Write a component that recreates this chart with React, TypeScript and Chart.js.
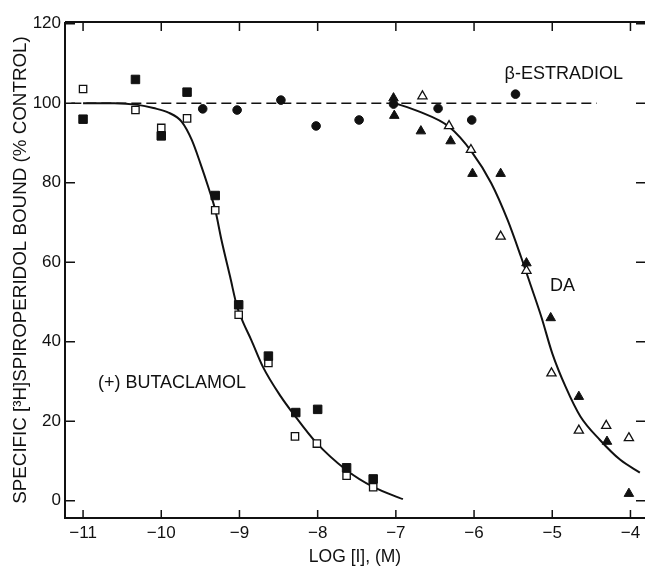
import React, { useEffect, useRef } from "react";
import { Chart, registerables } from "chart.js";

Chart.register(...registerables);

// ---- axis ticks ----
const xTickValues = [-11, -10, -9, -8, -7, -6, -5, -4];
const yTickValues = [0, 20, 40, 60, 80, 100, 120];

// ---- (+) butaclamol, two experiments ----
const butFilledLogI = [-11.0, -10.33, -10.0, -9.67, -9.31, -9.01, -8.63, -8.28, -8.0, -7.63, -7.29];
const butFilledBound = [96.0, 106.0, 91.8, 102.8, 76.8, 49.3, 36.4, 22.2, 23.0, 8.3, 5.5];
const butOpenLogI = [-11.0, -10.33, -10.0, -9.67, -9.31, -9.01, -8.63, -8.29, -8.01, -7.63, -7.29];
const butOpenBound = [103.6, 98.3, 93.8, 96.2, 73.1, 46.8, 34.7, 16.2, 14.4, 6.3, 3.4];

// ---- beta-estradiol ----
const estLogI = [-9.47, -9.03, -8.47, -8.02, -7.47, -7.03, -6.46, -6.03, -5.47];
const estBound = [98.6, 98.3, 100.8, 94.3, 95.8, 99.8, 98.7, 95.8, 102.3];

// ---- dopamine (DA), two experiments ----
const daFilledLogI = [-7.03, -7.02, -6.68, -6.3, -6.02, -5.66, -5.33, -5.02, -4.66, -4.3, -4.02];
const daFilledBound = [101.3, 96.9, 93.0, 90.5, 82.3, 82.3, 59.8, 46.0, 26.2, 14.9, 1.8];
const daOpenLogI = [-6.66, -6.32, -6.04, -5.66, -5.33, -5.01, -4.66, -4.31, -4.02];
const daOpenBound = [101.8, 94.3, 88.3, 66.5, 57.9, 32.1, 17.7, 18.9, 15.8];

// ---- fitted curves ----
const butCurveLogI = [-11.0, -10.6, -10.3, -10.1, -9.9, -9.74, -9.61, -9.5, -9.4, -9.31, -9.23, -9.12, -9.03, -8.96, -8.85, -8.7, -8.47, -8.3, -8.03, -7.63, -7.29, -6.91];
const butCurveBound = [100, 100, 99.6, 98.8, 97.6, 95.4, 90.8, 84.9, 79.0, 73.2, 65.6, 56.4, 48.8, 45.2, 40.5, 33.7, 26.2, 21.6, 14.9, 7.7, 3.5, 0.4];
const daCurveLogI = [-7.04, -6.7, -6.32, -6.03, -5.78, -5.57, -5.4, -5.27, -5.14, -5.0, -4.83, -4.64, -4.39, -4.13, -3.88];
const daCurveBound = [100.2, 97.9, 94.1, 87.8, 79.9, 70.6, 61.4, 53.9, 46.3, 37.1, 28.7, 21.2, 15.3, 10.3, 7.1];

// ---- control (100 %) reference line ----
const refLogI = [-11.15, -4.43];
const refBound = [100, 100];

// ---- in-plot labels ----
const labelTexts = ["\u03b2-ESTRADIOL", "DA", "(+) BUTACLAMOL"];
const labelLogI = [-5.61, -5.03, -10.81];
const labelBound = [107.4, 54.1, 29.6];

const FONT = '"Liberation Sans", Arial, Helvetica, sans-serif';

const pts = (xs: number[], ys: number[]) => xs.map((x, i) => ({ x, y: ys[i] }));
const fmt = (v: number) => (v < 0 ? "\u2212" + Math.abs(v) : String(v));

const framePlugin = {
  id: "frameAndLabels",
  afterDatasetsDraw(chart: any) {
    const { ctx, chartArea, scales } = chart;
    const { left, right, top, bottom } = chartArea;
    ctx.save();
    ctx.strokeStyle = "#111";
    ctx.lineWidth = 2;
    ctx.beginPath();
    ctx.moveTo(left, top);
    ctx.lineTo(right, top);
    ctx.moveTo(left, top);
    ctx.lineTo(left, bottom);
    ctx.lineTo(right, bottom);
    ctx.stroke();

    ctx.lineWidth = 1.5;
    ctx.beginPath();
    xTickValues.forEach((v) => {
      const px = scales.x.getPixelForValue(v);
      ctx.moveTo(px, bottom);
      ctx.lineTo(px, bottom - 8);
      ctx.moveTo(px, top);
      ctx.lineTo(px, top + 9);
    });
    yTickValues.forEach((v) => {
      const py = scales.y.getPixelForValue(v);
      ctx.moveTo(left, py);
      ctx.lineTo(left + 10, py);
      ctx.moveTo(right, py);
      ctx.lineTo(right - 9, py);
    });
    ctx.stroke();

    ctx.fillStyle = "#111";
    ctx.font = `18px ${FONT}`;
    ctx.textAlign = "left";
    ctx.textBaseline = "middle";
    labelTexts.forEach((t, i) => {
      ctx.fillText(t, scales.x.getPixelForValue(labelLogI[i]), scales.y.getPixelForValue(labelBound[i]));
    });
    ctx.restore();
  },
};

export default function App() {
  const canvasRef = useRef<HTMLCanvasElement | null>(null);

  useEffect(() => {
    if (!canvasRef.current) return;
    const markerBase = { showLine: false, borderColor: "#111", order: 0 };
    const chart = new Chart(canvasRef.current, {
      type: "scatter",
      data: {
        datasets: [
          {
            label: "butaclamol curve",
            data: pts(butCurveLogI, butCurveBound),
            showLine: true,
            pointRadius: 0,
            borderColor: "#111",
            borderWidth: 2,
            cubicInterpolationMode: "monotone",
            order: 2,
          },
          {
            label: "DA curve",
            data: pts(daCurveLogI, daCurveBound),
            showLine: true,
            pointRadius: 0,
            borderColor: "#111",
            borderWidth: 2,
            cubicInterpolationMode: "monotone",
            order: 2,
          },
          {
            label: "control",
            data: pts(refLogI, refBound),
            showLine: true,
            pointRadius: 0,
            borderColor: "#111",
            borderWidth: 1.5,
            borderDash: [10, 5],
            order: 2,
          },
          {
            ...markerBase,
            label: "(+) butaclamol A",
            data: pts(butFilledLogI, butFilledBound),
            pointStyle: "rect",
            pointRadius: 6,
            borderWidth: 1,
            backgroundColor: "#111",
          },
          {
            ...markerBase,
            label: "(+) butaclamol B",
            data: pts(butOpenLogI, butOpenBound),
            pointStyle: "rect",
            pointRadius: 5.2,
            borderWidth: 1.3,
            backgroundColor: "#fff",
          },
          {
            ...markerBase,
            label: "beta-estradiol",
            data: pts(estLogI, estBound),
            pointStyle: "circle",
            pointRadius: 4.3,
            borderWidth: 1,
            backgroundColor: "#111",
          },
          {
            ...markerBase,
            label: "DA A",
            data: pts(daFilledLogI, daFilledBound),
            pointStyle: "triangle",
            pointRadius: 5.5,
            borderWidth: 1,
            backgroundColor: "#111",
          },
          {
            ...markerBase,
            label: "DA B",
            data: pts(daOpenLogI, daOpenBound),
            pointStyle: "triangle",
            pointRadius: 5.3,
            borderWidth: 1.3,
            backgroundColor: "#fff",
          },
        ],
      },
      options: {
        animation: false,
        responsive: false,
        maintainAspectRatio: false,
        events: [],
        layout: { padding: { left: 0, right: 0, top: 22, bottom: 0 } },
        plugins: {
          legend: { display: false },
          tooltip: { enabled: false },
        },
        scales: {
          x: {
            type: "linear",
            min: -11.231,
            max: -3.814,
            afterBuildTicks: (s: any) => {
              s.ticks = xTickValues.map((v) => ({ value: v }));
            },
            afterFit: (s: any) => {
              s.height = 50;
            },
            grid: { display: false, drawTicks: false },
            border: { display: false },
            ticks: {
              color: "#111",
              padding: 5,
              maxRotation: 0,
              autoSkip: false,
              font: { family: FONT, size: 17 },
              callback: (v: any) => fmt(Number(v)),
            },
            title: {
              display: true,
              text: "LOG [I], (M)",
              color: "#111",
              font: { family: FONT, size: 17.5 },
              padding: { top: 0, bottom: 0 },
            },
          },
          y: {
            type: "linear",
            min: -4.33,
            max: 120.45,
            afterBuildTicks: (s: any) => {
              s.ticks = yTickValues.map((v) => ({ value: v }));
            },
            afterFit: (s: any) => {
              s.width = 65;
            },
            grid: { display: false, drawTicks: false },
            border: { display: false },
            ticks: {
              color: "#111",
              padding: 4,
              autoSkip: false,
              font: { family: FONT, size: 17 },
              callback: (v: any) => fmt(Number(v)),
            },
            title: {
              display: true,
              text: "SPECIFIC [\u00b3H]SPIROPERIDOL BOUND (% CONTROL)",
              color: "#111",
              font: { family: FONT, size: 18.8 },
              padding: { top: 10, bottom: 0 },
            },
          },
        },
      },
      plugins: [framePlugin],
    } as any);
    return () => chart.destroy();
  }, []);

  return (
    <div style={{ position: "absolute", left: 0, top: 0, width: 652, height: 568, background: "#fff" }}>
      <canvas ref={canvasRef} width={652} height={568} style={{ display: "block", width: 652, height: 568 }} />
    </div>
  );
}
